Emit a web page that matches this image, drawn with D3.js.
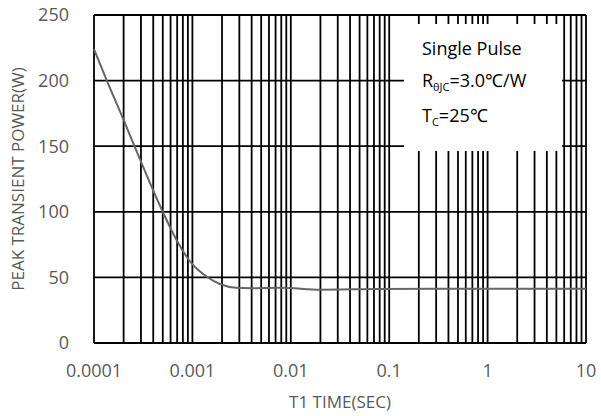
<!DOCTYPE html>
<html lang="en">
<head>
    <meta charset="UTF-8">
    <title>Peak Transient Power</title>
    <script src="https://d3js.org/d3.v7.min.js"></script>
    <style>
        body {
            margin: 0;
            padding: 0;
            background-color: #fff;
        }
        svg text {
            font-family: 'Open Sans', 'Liberation Sans', sans-serif;
        }
        .tick-label {
            fill: #595959;
            font-size: 18px;
        }
        .axis-title {
            fill: #595959;
            font-size: 17px;
        }
        .legend-text {
            fill: #000;
            font-size: 18px;
        }
    </style>
</head>
<body>
    <div id="chart"></div>

    <script>
        // Data
        const timeSec = [1e-4, 1.35e-4, 2e-4, 2.42e-4, 5e-4, 6.9e-4, 9.5e-4, 1.4e-3, 1.9e-3, 2.8e-3, 4e-3, 8e-3, 2e-2, 8e-2, 1, 10];
        const peakPower = [224, 200, 170, 155, 100, 78.5, 62, 50.5, 45, 42.1, 41.8, 42.1, 40.6, 41.2, 41.3, 41.3];

        const xTicks = [1e-4, 1e-3, 1e-2, 1e-1, 1, 10];
        const xTickLabels = ["0.0001", "0.001", "0.01", "0.1", "1", "10"];
        const yTicks = [0, 50, 100, 150, 200, 250];

        const width = 601;
        const height = 416;
        const margin = { top: 15, right: 15, bottom: 73, left: 94 };

        const svg = d3.select("#chart")
            .append("svg")
            .attr("width", width)
            .attr("height", height);

        const x = d3.scaleLog()
            .domain([1e-4, 10])
            .range([margin.left, width - margin.right]);

        const y = d3.scaleLinear()
            .domain([0, 250])
            .range([height - margin.bottom, margin.top]);

        // vertical grid: every 1..9 of each decade
        const minorX = [];
        for (let e = -4; e < 1; e++) {
            for (let m = 1; m < 10; m++) minorX.push(m * Math.pow(10, e));
        }
        minorX.push(10);

        svg.append("g")
            .selectAll("line")
            .data(minorX)
            .enter().append("line")
            .attr("x1", d => x(d))
            .attr("x2", d => x(d))
            .attr("y1", y(0))
            .attr("y2", y(250))
            .attr("stroke", "#000")
            .attr("stroke-width", 1.8);

        svg.append("g")
            .selectAll("line")
            .data(yTicks)
            .enter().append("line")
            .attr("x1", x(1e-4))
            .attr("x2", x(10))
            .attr("y1", d => y(d))
            .attr("y2", d => y(d))
            .attr("stroke", "#000")
            .attr("stroke-width", 1.8);

        // legend box covers the grid
        svg.append("rect")
            .attr("x", 404)
            .attr("y", 24)
            .attr("width", 158)
            .attr("height", 127)
            .attr("fill", "#fff");

        const legend = svg.append("g").attr("class", "legend-text");
        legend.append("text")
            .attr("x", 422)
            .attr("y", 55)
            .text("Single Pulse");

        const rLine = legend.append("text")
            .attr("x", 422)
            .attr("y", 87);
        rLine.append("tspan").text("R");
        rLine.append("tspan").attr("font-size", 11).attr("dy", 4).text("θJC");
        rLine.append("tspan").attr("dy", -4).text("=3.0℃/W");

        const tLine = legend.append("text")
            .attr("x", 422)
            .attr("y", 122);
        tLine.append("tspan").text("T");
        tLine.append("tspan").attr("font-size", 11).attr("dy", 4).text("C");
        tLine.append("tspan").attr("dy", -4).text("=25℃");

        // curve
        const line = d3.line()
            .x((d, i) => x(timeSec[i]))
            .y(d => y(d))
            .curve(d3.curveMonotoneX);

        svg.append("path")
            .datum(peakPower)
            .attr("fill", "none")
            .attr("stroke", "#666")
            .attr("stroke-width", 2)
            .attr("d", line);

        // tick labels
        svg.append("g")
            .selectAll("text")
            .data(yTicks)
            .enter().append("text")
            .attr("class", "tick-label")
            .attr("x", margin.left - 25)
            .attr("y", d => y(d))
            .attr("dy", "0.35em")
            .attr("text-anchor", "end")
            .text(d => d);

        svg.append("g")
            .selectAll("text")
            .data(xTicks)
            .enter().append("text")
            .attr("class", "tick-label")
            .attr("x", d => x(d))
            .attr("y", 377)
            .attr("text-anchor", "middle")
            .text((d, i) => xTickLabels[i]);

        // axis titles
        svg.append("text")
            .attr("class", "axis-title")
            .attr("x", (x(1e-4) + x(10)) / 2)
            .attr("y", 408)
            .attr("text-anchor", "middle")
            .text("T1 TIME(SEC)");

        svg.append("text")
            .attr("class", "axis-title")
            .attr("transform", "translate(24," + ((y(0) + y(250)) / 2) + ") rotate(-90)")
            .attr("text-anchor", "middle")
            .text("PEAK TRANSIENT POWER(W)");
    </script>
</body>
</html>
